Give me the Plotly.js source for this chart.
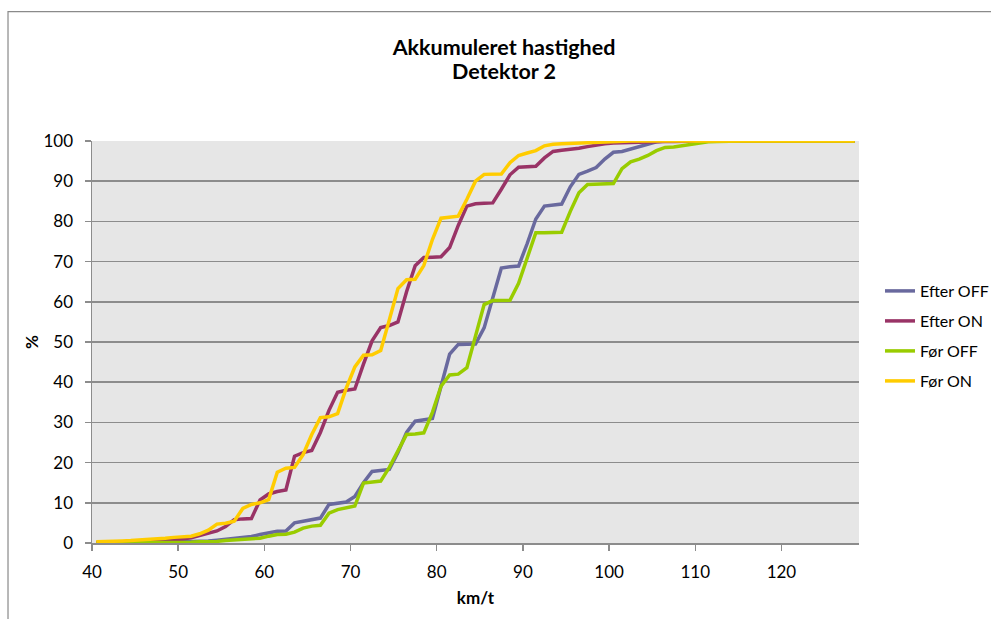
<!DOCTYPE html>
<html>
<head>
<meta charset="utf-8">
<script src="https://cdn.plot.ly/plotly-3.0.1.min.js"></script>
<style>html,body{margin:0;padding:0;background:#fff;}#chart{width:991px;height:619px;}</style>
</head>
<body>
<div id="chart"></div>
<script>
// Speed classes (km/t), bin midpoints
const speeds = [40.5,41.5,42.5,43.5,44.5,45.5,46.5,47.5,48.5,49.5,
  50.5,51.5,52.5,53.5,54.5,55.5,56.5,57.5,58.5,59.5,
  60.5,61.5,62.5,63.5,64.5,65.5,66.5,67.5,68.5,69.5,
  70.5,71.5,72.5,73.5,74.5,75.5,76.5,77.5,78.5,79.5,
  80.5,81.5,82.5,83.5,84.5,85.5,86.5,87.5,88.5,89.5,
  90.5,91.5,92.5,93.5,94.5,95.5,96.5,97.5,98.5,99.5,
  100.5,101.5,102.5,103.5,104.5,105.5,106.5,107.5,108.5,109.5,
  110.5,111.5,112.5,113.5,114.5,115.5,116.5,117.5,118.5,119.5,
  120.5,121.5,122.5,123.5,124.5,125.5,126.5,127.5,128.5];

const efterOff = [0.0,0.0,0.0,0.0,0.1,0.1,0.1,0.2,0.2,0.2,
  0.3,0.3,0.4,0.5,0.7,0.9,1.1,1.3,1.6,2.1,
  2.6,2.9,3.0,5.0,5.4,5.8,6.2,9.6,10.0,10.2,
  11.6,15.0,17.8,18.0,18.3,22.5,27.5,30.3,30.6,31.0,
  39.0,47.0,49.4,49.4,49.5,53.5,61.0,68.4,68.7,68.9,
  74.5,80.6,83.8,84.0,84.3,88.6,91.7,92.5,93.4,95.5,
  97.2,97.4,98.0,98.7,99.2,99.8,100,100,100,100,
  100,100,100,100,100,100,100,100,100,100,
  100,100,100,100,100,100,100,100,100];

const efterOn = [0.1,0.1,0.2,0.2,0.3,0.3,0.4,0.5,0.6,0.8,
  1.0,1.3,1.8,2.4,3.0,4.1,5.8,6.0,6.1,10.7,
  12.2,12.8,13.2,21.6,22.5,23.0,27.5,33.0,37.5,38.0,
  38.3,44.5,50.3,53.6,54.1,55.0,62.5,69.0,71.0,71.1,
  71.2,73.5,79.0,83.8,84.4,84.5,84.6,88.0,91.6,93.5,
  93.6,93.7,95.8,97.4,97.7,97.9,98.2,98.6,99.0,99.3,
  99.5,99.6,99.7,99.8,99.8,99.9,99.9,99.9,100,100,
  100,100,100,100,100,100,100,100,100,100,
  100,100,100,100,100,100,100,100,100];

const forOff = [0.0,0.0,0.0,0.0,0.0,0.0,0.1,0.1,0.1,0.1,
  0.2,0.2,0.3,0.3,0.4,0.6,0.8,1.0,1.1,1.2,
  1.7,2.1,2.2,2.7,3.7,4.2,4.4,7.4,8.3,8.7,
  9.2,14.9,15.2,15.4,18.8,23.0,27.0,27.1,27.4,32.5,
  39.0,41.8,42.0,43.6,51.5,59.3,60.3,60.3,60.4,64.6,
  71.0,77.2,77.2,77.2,77.3,82.5,87.1,89.2,89.3,89.3,
  89.4,93.1,94.8,95.5,96.4,97.6,98.4,98.5,98.8,99.3,
  99.6,99.8,99.9,100,100,100,100,100,100,100,
  100,100,100,100,100,100,100,100,100];

const forOn = [0.3,0.3,0.4,0.5,0.6,0.7,0.8,1.0,1.2,1.4,
  1.5,1.7,2.3,3.2,4.7,4.9,5.4,8.6,9.6,10.0,
  10.8,17.6,18.6,18.8,22.0,27.0,31.2,31.4,32.2,38.5,
  43.8,46.7,46.8,47.9,55.5,63.3,65.5,65.6,69.0,75.5,
  80.8,81.1,81.3,85.5,90.0,91.7,91.7,91.8,94.6,96.4,
  97.0,97.6,98.8,99.2,99.3,99.4,99.6,99.7,99.8,99.9,
  100,100,100,100,100,100,100,100,100,100,
  100,100,100,100,100,100,100,100,100,100,
  100,100,100,100,100,100,100,100,100];

const seriesNames = ['Efter OFF','Efter ON','Før OFF','Før ON'];
const seriesColors = ['#69699e','#993366','#99cc00','#ffcc00'];
const seriesValues = [efterOff, efterOn, forOff, forOn];
const titleLines = ['Akkumuleret hastighed', 'Detektor 2'];

const FONT = 'Lato, "Open Sans", sans-serif';

const traces = seriesValues.map((vals, i) => ({
  type: 'scatter',
  mode: 'lines',
  name: seriesNames[i],
  legendgroup: 'g' + i,
  x: speeds,
  y: vals,
  line: {color: seriesColors[i], width: 3.5},
  hoverinfo: 'x+y+name'
}));

// plot area: x 92..859 px, y 141..543 px
const layout = {
  width: 991,
  height: 619,
  margin: {l: 92, r: 132, t: 141, b: 76, pad: 0, autoexpand: false},
  paper_bgcolor: '#ffffff',
  plot_bgcolor: '#e6e6e6',
  font: {family: FONT, color: '#000000', size: 17},
  title: {
    text: '<b>' + titleLines[0] + '</b>',
    font: {family: FONT, size: 21.5, color: '#000000'},
    x: 0.5086, xref: 'container', xanchor: 'center',
    y: 1 - 47 / 619, yref: 'container', yanchor: 'middle'
  },
  annotations: [{
    text: '<b>' + titleLines[1] + '</b>',
    xref: 'paper', yref: 'paper',
    x: (504 - 92) / 767, y: (543 - 71) / 402,
    xanchor: 'center', yanchor: 'middle',
    showarrow: false,
    font: {family: FONT, size: 21.5, color: '#000000'}
  }],
  xaxis: {
    range: [40, 129],
    tick0: 40, dtick: 10,
    showgrid: false,
    zeroline: false,
    showline: true, linecolor: '#8c8c8c', linewidth: 1.5,
    ticks: 'outside', ticklen: 6, tickcolor: '#8c8c8c', tickwidth: 1.5,
    tickfont: {family: FONT, size: 17, color: '#000000'},
    ticklabelstandoff: 7,
    title: {text: '<b>km/t</b>', font: {family: FONT, size: 17, color: '#000000'}, standoff: 11}
  },
  yaxis: {
    range: [0, 100],
    tick0: 0, dtick: 10,
    showgrid: true, gridcolor: '#8c8c8c', gridwidth: 1.5,
    zeroline: false,
    showline: true, linecolor: '#8c8c8c', linewidth: 1.5,
    ticks: 'outside', ticklen: 6, tickcolor: '#8c8c8c', tickwidth: 1.5,
    tickfont: {family: FONT, size: 17, color: '#000000'},
    ticklabelstandoff: 8,
    title: {text: '<b>%</b>', font: {family: FONT, size: 17, color: '#000000'}, standoff: 0}
  },
  showlegend: true,
  legend: {
    x: (880 - 92) / 767, xanchor: 'left', xref: 'paper',
    y: (543 - 274) / 402, yanchor: 'top', yref: 'paper',
    font: {family: FONT, size: 16, color: '#000000'},
    bgcolor: 'rgba(0,0,0,0)',
    borderwidth: 0,
    traceorder: 'grouped',
    tracegroupgap: 6.2
  },
  shapes: [{
    type: 'rect', xref: 'paper', yref: 'paper',
    x0: -0.1095, x1: 1.185, y0: -0.25, y1: 1.3216,
    line: {color: '#8a8a8a', width: 1.2},
    fillcolor: 'rgba(0,0,0,0)',
    layer: 'below'
  }]
};

Plotly.newPlot('chart', traces, layout, {displayModeBar: false, staticPlot: true});
</script>
</body>
</html>
